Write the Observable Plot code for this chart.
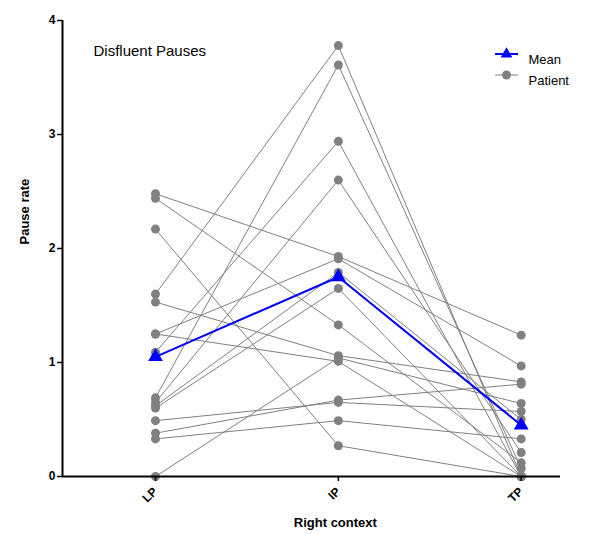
<!DOCTYPE html>
<html>
<head>
<meta charset="utf-8">
<script src="https://cdn.jsdelivr.net/npm/d3@7"></script>
<script src="https://cdn.jsdelivr.net/npm/@observablehq/plot@0.6"></script>
<style>
  html, body { margin: 0; padding: 0; background: #fff; }
  #chart { width: 616px; height: 534px; }
</style>
</head>
<body>
<div id="chart"></div>
<script>
const categories = ["LP", "IP", "TP"];
const patientLP = [2.48, 2.44, 2.17, 1.60, 1.53, 1.25, 1.25, 1.09, 0.69, 0.65, 0.62, 0.60, 0.49, 0.38, 0.33, 0.00];
const patientIP = [1.93, 1.33, 0.27, 3.78, 1.06, 1.91, 1.01, 2.94, 3.61, 2.60, 1.79, 1.65, 0.65, 0.67, 0.49, 1.04];
const patientTP = [1.24, 0.12, 0.00, 0.00, 0.83, 0.97, 0.00, 0.00, 0.07, 0.21, 0.50, 0.00, 0.57, 0.81, 0.33, 0.64];
const meanValues = [1.05, 1.75, 0.45];
const yTicks = [0, 1, 2, 3, 4];
const legendLabels = ["Mean", "Patient"];

const series = [patientLP, patientIP, patientTP];
const rows = patientLP.flatMap((_, i) => series.map((arr, j) => ({patient: i, pos: j, value: arr[i]})));
const meanRows = meanValues.map((v, j) => ({pos: j, value: v}));

const xDomain = [-0.5086, 2.215];
const gray = "#808080";
const blue = "#0000ff";
const font = "'Liberation Sans', Arial, sans-serif";

const chart = Plot.plot({
  width: 616,
  height: 534,
  marginLeft: 62,
  marginRight: 56,
  marginTop: 20,
  marginBottom: 58,
  style: {fontFamily: font, background: "white", color: "black", overflow: "visible"},
  x: {type: "linear", domain: xDomain},
  y: {domain: [0, 4]},
  marks: [
    Plot.line(rows, {x: "pos", y: "value", z: "patient", stroke: gray, strokeWidth: 1}),
    Plot.dot(rows, {x: "pos", y: "value", r: 4.5, fill: gray, stroke: "none"}),
    Plot.line(meanRows, {x: "pos", y: "value", stroke: blue, strokeWidth: 2}),
    Plot.dot(meanRows, {x: "pos", y: "value", symbol: "triangle", r: 5.5, fill: blue, stroke: "none"}),
    Plot.ruleX([xDomain[0]], {y1: 0, y2: 4, stroke: "black", strokeWidth: 2}),
    Plot.ruleY([0], {x1: xDomain[0], x2: xDomain[1], stroke: "black", strokeWidth: 2}),
    Plot.axisY({ticks: yTicks, tickFormat: d => String(d), tickSize: 5, tickPadding: 2, fontSize: 12, fontWeight: "bold", label: null, stroke: "black", strokeWidth: 1.5}),
    Plot.axisX({ticks: [0, 1, 2], tickFormat: i => categories[i], tickSize: 5, tickPadding: 8, tickRotate: -45, fontSize: 12, fontWeight: "bold", label: null, stroke: "black", strokeWidth: 1.5}),
    Plot.text(["Pause rate"], {frameAnchor: "left", rotate: -90, dx: -38, dy: -4, fontWeight: "bold", fontSize: 13, fill: "black"}),
    Plot.text([{pos: 1, label: "Right context"}], {x: "pos", text: "label", frameAnchor: "bottom", dx: -3, dy: 50, fontWeight: "bold", fontSize: 13, fill: "black"}),
    Plot.text(["Disfluent Pauses"], {frameAnchor: "top-left", dx: 31, dy: 25, textAnchor: "start", fontSize: 15, fill: "black"}),
    Plot.text([legendLabels[0]], {frameAnchor: "top-right", dx: -32, dy: 34, textAnchor: "start", fontSize: 13, fill: "black"}),
    Plot.text([legendLabels[1]], {frameAnchor: "top-right", dx: -32, dy: 55, textAnchor: "start", fontSize: 13, fill: "black"})
  ]
});

// legend swatches
const svg = d3.select(chart);
const lg = svg.append("g");
[[blue, "triangle", 54], [gray, "circle", 75]].forEach(([c, sym, y]) => {
  lg.append("line").attr("x1", 495).attr("x2", 518).attr("y1", y).attr("y2", y)
    .attr("stroke", c).attr("stroke-width", c === blue ? 2 : 1);
  if (sym === "circle") {
    lg.append("circle").attr("cx", 506.5).attr("cy", y).attr("r", 4.5).attr("fill", c);
  } else {
    lg.append("path").attr("d", d3.symbol(d3.symbolTriangle, 60)()).attr("transform", `translate(506.5,${y})`).attr("fill", c);
  }
});

document.getElementById("chart").appendChild(chart);
</script>
</body>
</html>
